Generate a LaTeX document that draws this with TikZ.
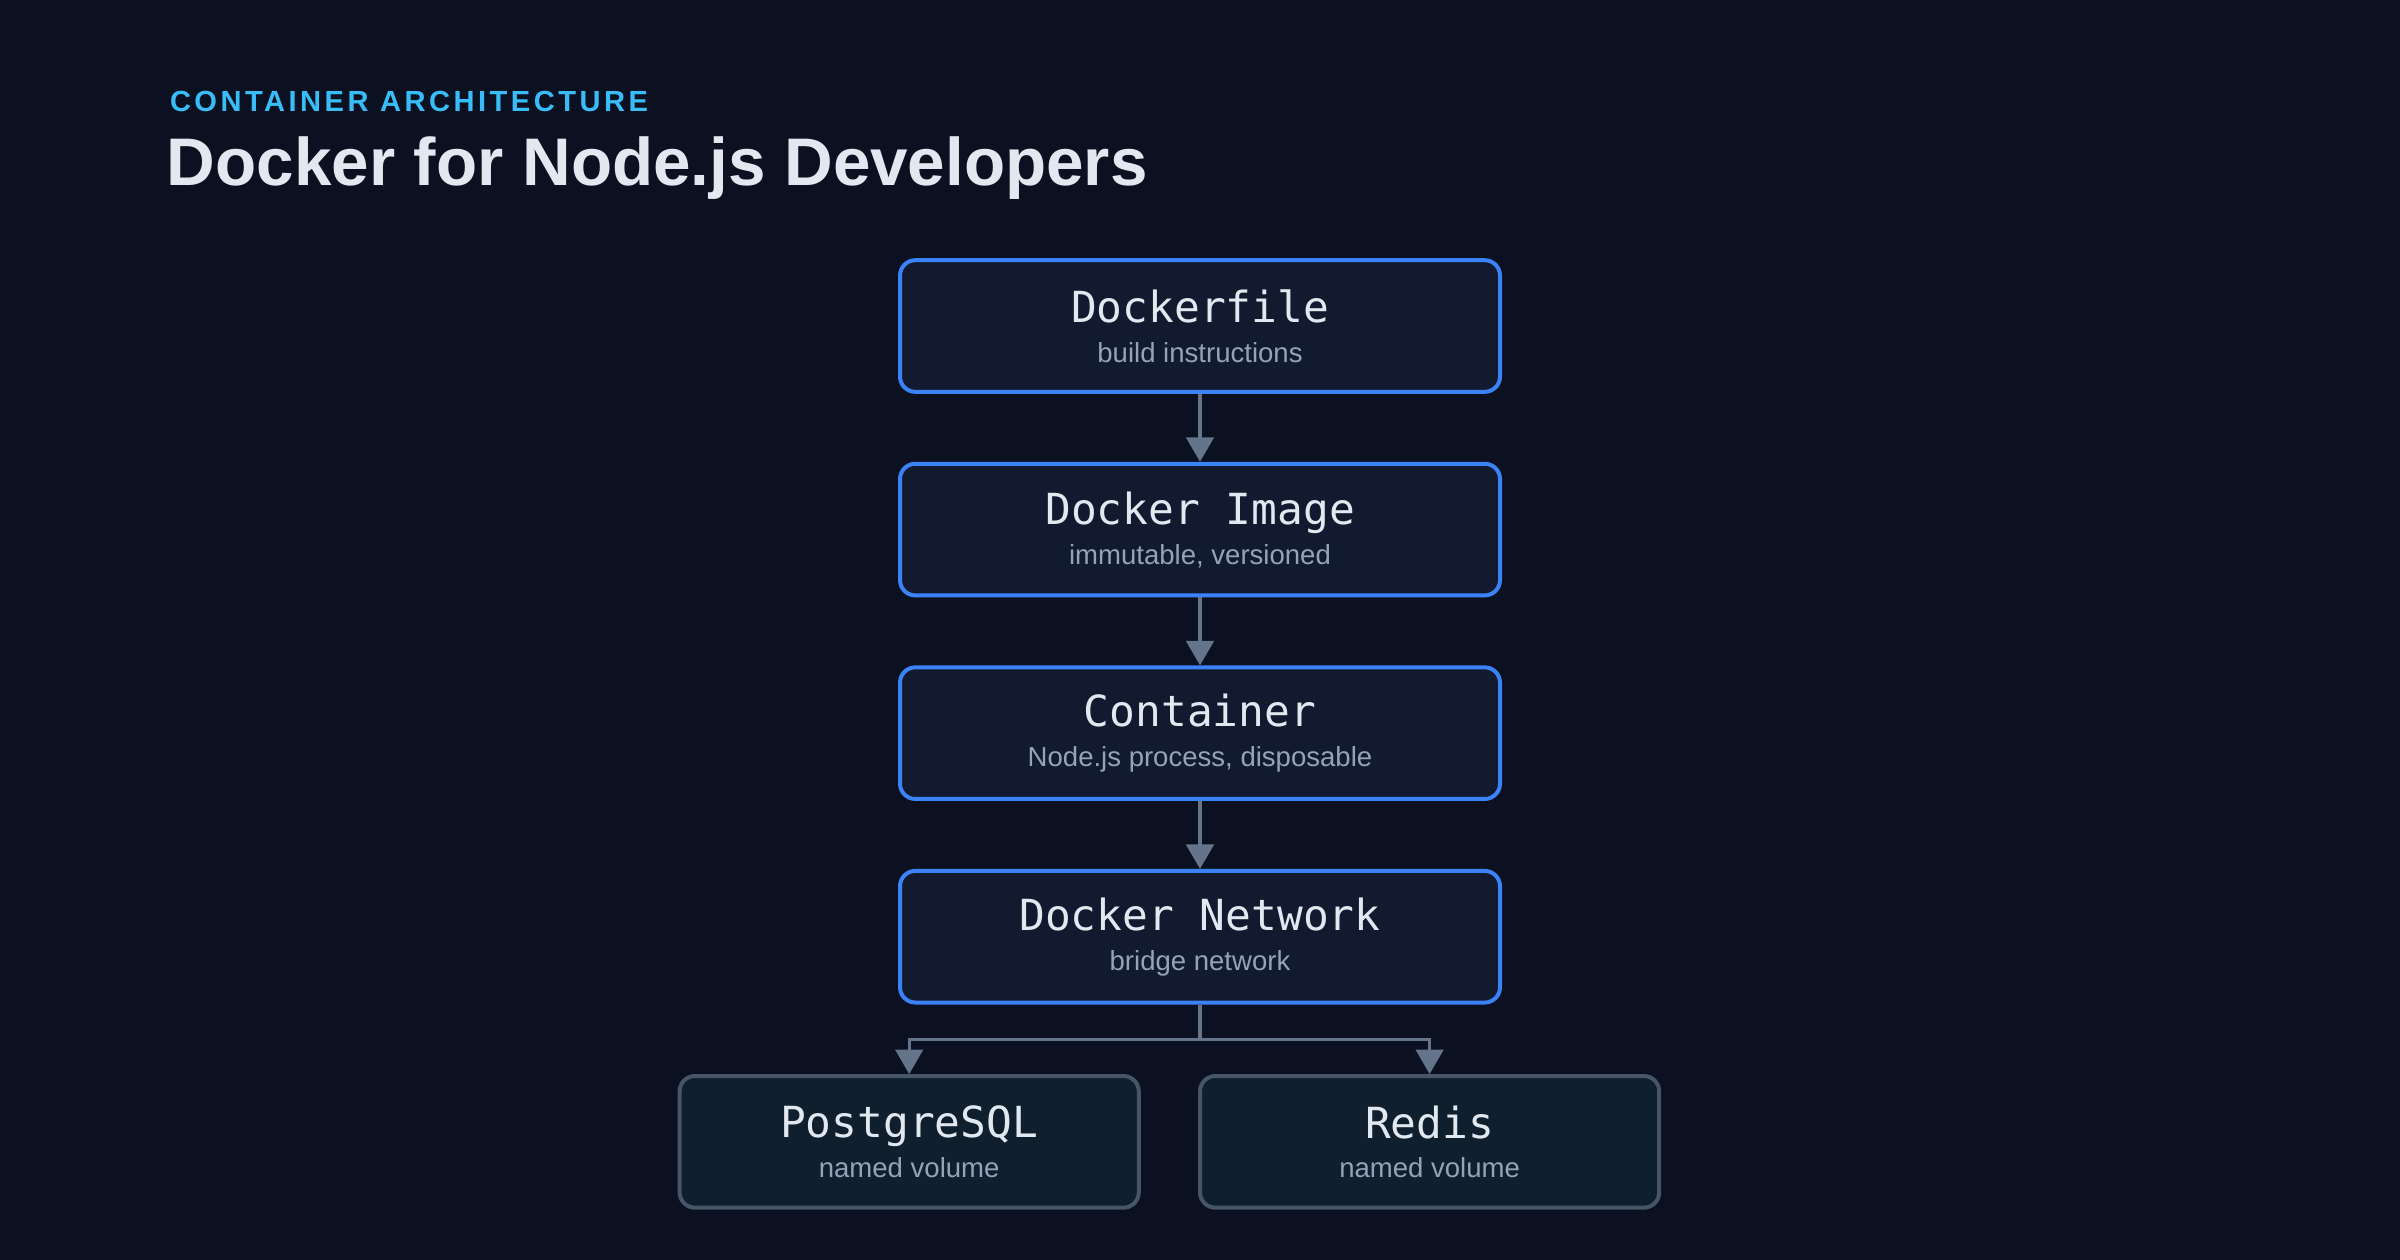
\documentclass[tikz,border=0pt]{standalone}
\usepackage{fontspec}
\setmainfont{Liberation Sans}
\setmonofont{DejaVu Sans Mono}
\newfontfamily\kickerfont[LetterSpace=12]{Liberation Sans}
\usetikzlibrary{positioning,arrows.meta}
\definecolor{bgdark}{HTML}{0B1120}
\definecolor{boxfill}{HTML}{111A2E}
\definecolor{boxline}{HTML}{3B82F6}
\definecolor{dbfill}{HTML}{0F1F2E}
\definecolor{dbline}{HTML}{475569}
\definecolor{wire}{HTML}{64748B}
\definecolor{subtext}{HTML}{94A3B8}
\definecolor{headtext}{HTML}{E2E8F0}
\definecolor{kicker}{HTML}{38BDF8}
\tikzset{
    stage-box/.style = {draw=boxline, fill=boxfill, line width=1.3pt, rectangle, rounded corners=5pt,
        minimum width=196pt, minimum height=43pt, align=center, inner sep=0pt},
    store-box/.style = {stage-box, draw=dbline, fill=dbfill, minimum width=150pt},
    flow/.style = {draw=wire, line width=1.1pt, -{Triangle[length=8pt,width=9pt]}},
}
\newcommand{\stagetext}[2]{{\ttfamily\fontsize{14}{16}\selectfont\color{headtext}#1}\\[1pt]{\fontsize{9}{11}\selectfont\color{subtext}#2}}
\begin{document}
\begin{tikzpicture}[x=0.5pt,y=-0.5pt]
\fill[bgdark] (0,0) rectangle (1568,823);
\useasboundingbox (0,0) rectangle (1568,823);
\node[anchor=west, text=kicker, font=\kickerfont\bfseries\fontsize{9.5}{11}\selectfont] (kick) at (104,66) {CONTAINER ARCHITECTURE};
\node[anchor=west, text=headtext, font=\bfseries\fontsize{22}{26}\selectfont] (title) at (102,110) {Docker for Node.js Developers};
% main chain
\node[stage-box] (dockerfile) at (784,213) {\stagetext{Dockerfile}{build instructions}};
\node[stage-box] (image) at (784,346) {\stagetext{Docker Image}{immutable, versioned}};
\node[stage-box] (container) at (784,479) {\stagetext{Container}{Node.js process, disposable}};
\node[stage-box] (network) at (784,612) {\stagetext{Docker Network}{bridge network}};
% services
\node[store-box] (postgres) at (594,746) {\stagetext{PostgreSQL}{named volume}};
\node[store-box] (redis) at (934,746) {\stagetext{Redis}{named volume}};
\draw[flow] (dockerfile) -- (image);
\draw[flow] (image) -- (container);
\draw[flow] (container) -- (network);
\coordinate (fork) at (784,679);
\draw[draw=wire, line width=1.1pt] (network.south) -- (fork);
\draw[flow] (fork) -| (postgres.north);
\draw[flow] (fork) -| (redis.north);
\end{tikzpicture}
\end{document}
